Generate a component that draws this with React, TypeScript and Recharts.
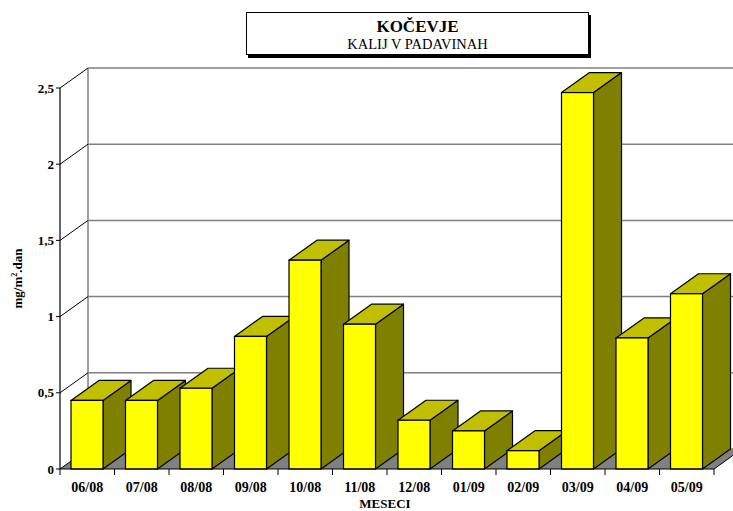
import { BarChart, Bar, XAxis, YAxis, CartesianGrid, Label } from 'recharts';

// Data
const CATEGORIES = ['06/08', '07/08', '08/08', '09/08', '10/08', '11/08', '12/08', '01/09', '02/09', '03/09', '04/09', '05/09'];
const VALUES = [0.45, 0.45, 0.53, 0.87, 1.37, 0.95, 0.32, 0.25, 0.12, 2.47, 0.86, 1.15];
const Y_TICKS = [0, 0.5, 1, 1.5, 2, 2.5];

const data = CATEGORIES.map((month, i) => ({ month, value: VALUES[i] }));

// Layout
const WIDTH = 733;
const HEIGHT = 511;
const MARGIN = { top: 88, right: 19, bottom: 0, left: 10 };
const Y_AXIS_W = 50;
const X_AXIS_H = 42;
const PLOT_LEFT = MARGIN.left + Y_AXIS_W;
const PLOT_W = WIDTH - PLOT_LEFT - MARGIN.right;
const PLOT_BOTTOM = HEIGHT - MARGIN.bottom - X_AXIS_H;
const BAND = PLOT_W / CATEGORIES.length;

// 3D depth offsets
const DX = 28;
const DY = 20;

const FONT = 'Liberation Serif, Times New Roman, serif';

function Bar3D(props: any) {
  const { x, y, width, height } = props;
  if (height == null || width == null) return null;
  const stroke = '#000';
  const sw = 1.2;
  const top = `${x},${y} ${x + DX},${y - DY} ${x + width + DX},${y - DY} ${x + width},${y}`;
  const side = `${x + width},${y} ${x + width + DX},${y - DY} ${x + width + DX},${y + height - DY} ${x + width},${y + height}`;
  return (
    <g>
      <polygon points={side} fill="#808000" stroke={stroke} strokeWidth={sw} strokeLinejoin="round" />
      <polygon points={top} fill="#c0c000" stroke={stroke} strokeWidth={sw} strokeLinejoin="round" />
      <rect x={x} y={y} width={width} height={height} fill="#ffff00" stroke={stroke} strokeWidth={sw} />
    </g>
  );
}

// Horizontal grid line -> left wall diagonal + back wall line (+ floor for zero line)
function GridLine3D(props: any) {
  const { x1, y1, x2, index } = props;
  const isFloor = Math.abs(y1 - PLOT_BOTTOM) < 1;
  return (
    <g key={`grid-${index}`}>
      {isFloor && (
        <>
          <polygon
            points={`${x1},${y1} ${x2},${y1} ${x2 + DX},${y1 - DY} ${x1 + DX},${y1 - DY}`}
            fill="#808080"
          />
          <line x1={x2} y1={y1} x2={x2 + DX} y2={y1 - DY} stroke="#000" strokeWidth={1} />
          <line x1={x1 + DX} y1={y1 - DY} x2={x1 + DX} y2={MARGIN.top - DY} stroke="#808080" strokeWidth={1.5} />
        </>
      )}
      <line x1={x1 + DX} y1={y1 - DY} x2={x2 + DX} y2={y1 - DY} stroke="#808080" strokeWidth={1.5} />
      <line x1={x1} y1={y1} x2={x1 + DX} y2={y1 - DY} stroke="#000" strokeWidth={1} />
    </g>
  );
}

function MonthTick(props: any) {
  const { x, y, payload, index } = props;
  const left = x - BAND / 2;
  const isLast = index === CATEGORIES.length - 1;
  return (
    <g>
      <line x1={left} y1={y} x2={left} y2={y + 6} stroke="#000" strokeWidth={1} />
      {isLast && <line x1={x + BAND / 2} y1={y} x2={x + BAND / 2} y2={y + 6} stroke="#000" strokeWidth={1} />}
      <text x={x} y={y + 23} textAnchor="middle" style={{ fontFamily: FONT }} fontWeight="bold" fontSize={14} fill="#000">
        {payload.value}
      </text>
    </g>
  );
}

function YTitle(props: any) {
  const { viewBox } = props;
  const cx = viewBox.x + 12;
  const cy = viewBox.y + viewBox.height / 2;
  return (
    <text
      x={cx}
      y={cy}
      transform={`rotate(-90, ${cx}, ${cy})`}
      textAnchor="middle"
      style={{ fontFamily: FONT }}
      fontWeight="bold"
      fontSize={13}
      fill="#000"
    >
      mg/m<tspan dy={-5} fontSize={8}>2</tspan><tspan dy={5}>.dan</tspan>
    </text>
  );
}

function XTitle(props: any) {
  const { viewBox } = props;
  return (
    <text
      x={viewBox.x + viewBox.width / 2 - 2}
      y={viewBox.y + 39}
      textAnchor="middle"
      style={{ fontFamily: FONT }}
      fontWeight="bold"
      fontSize={13}
      fill="#000"
    >
      MESECI
    </text>
  );
}

export default function App() {
  return (
    <div style={{ position: 'absolute', left: 0, top: 0, width: WIDTH, height: HEIGHT, background: '#fff', overflow: 'hidden', fontFamily: FONT }}>
      <BarChart width={WIDTH} height={HEIGHT} data={data} margin={MARGIN} barSize={32}>
        <CartesianGrid horizontal={GridLine3D} vertical={false} />
        <XAxis
          dataKey="month"
          height={X_AXIS_H}
          interval={0}
          tickLine={false}
          tickSize={0}
          tickMargin={0}
          axisLine={{ stroke: '#000', strokeWidth: 1.2 }}
          tick={<MonthTick />}
        >
          <Label content={<XTitle />} />
        </XAxis>
        <YAxis
          width={Y_AXIS_W}
          domain={[0, 2.5]}
          ticks={Y_TICKS}
          interval={0}
          tickSize={4}
          axisLine={{ stroke: '#000', strokeWidth: 1.2 }}
          tickLine={{ stroke: '#000' }}
          tick={{ style: { fontFamily: FONT }, fontWeight: 'bold', fontSize: 13, fill: '#000' }}
          tickFormatter={(v: number) => String(v).replace('.', ',')}
        >
          <Label content={<YTitle />} />
        </YAxis>
        <Bar dataKey="value" shape={<Bar3D />} isAnimationActive={false} />
      </BarChart>
      <div
        style={{
          position: 'absolute',
          left: 246,
          top: 12,
          width: 341,
          height: 41,
          border: '1px solid #000',
          boxShadow: '2px 3px 0 #000',
          background: '#fff',
          fontFamily: FONT,
          color: '#000',
          textAlign: 'center',
        }}
      >
        <div style={{ fontWeight: 'bold', fontSize: 17, lineHeight: '17px', marginTop: 5 }}>KOČEVJE</div>
        <div style={{ fontSize: 14.5, lineHeight: '16px', marginTop: 1 }}>KALIJ V PADAVINAH</div>
      </div>
    </div>
  );
}
